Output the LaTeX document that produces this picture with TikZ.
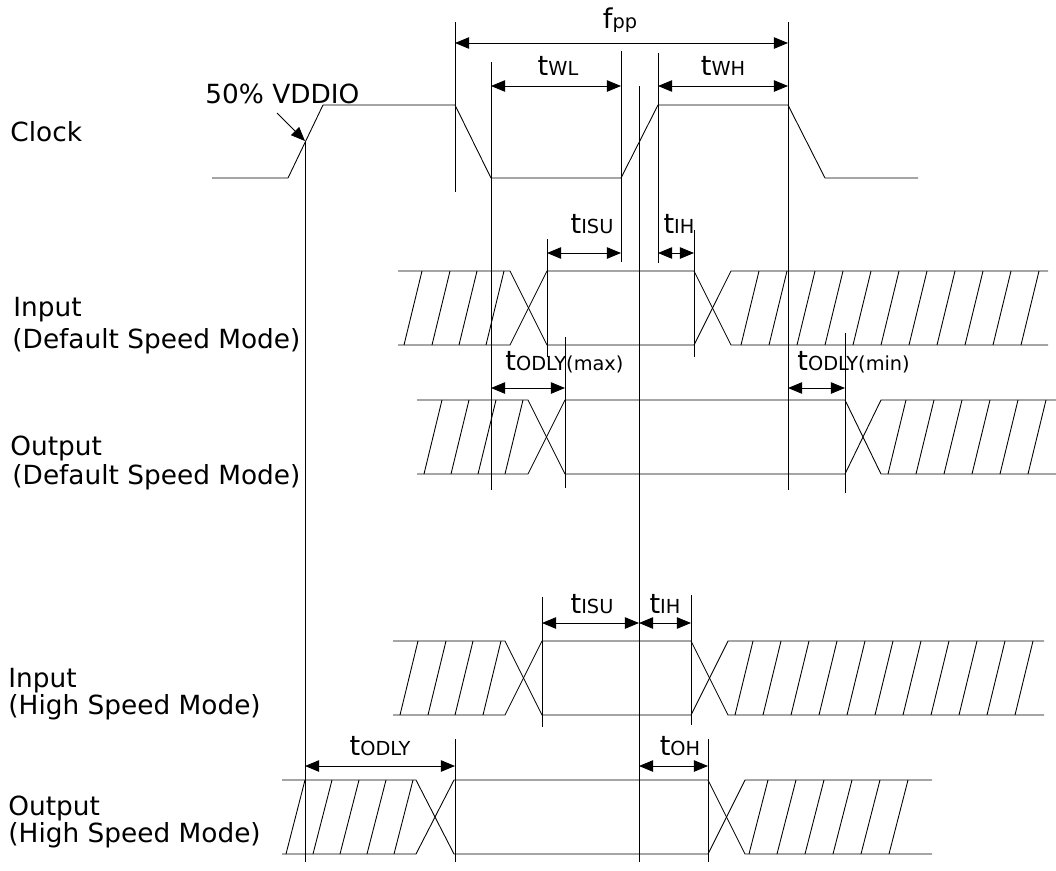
\documentclass[tikz,border=0pt]{standalone}
\usepackage{fontspec}
\setmainfont{DejaVu Sans}
\usetikzlibrary{arrows.meta}

\newcommand{\tsym}[2]{#1{\fontsize{11}{12}\selectfont #2}}

\begin{document}
\begin{tikzpicture}[x=0.02cm,y=-0.02cm,line width=0.5pt,
    >={Triangle[length=8pt,width=6.5pt]},
    dim/.style={<->},
    lbl/.style={font=\fontsize{15}{17}\selectfont,inner sep=0pt,anchor=base west},
    tlbl/.style={font=\fontsize{15.5}{17}\selectfont,inner sep=0pt,anchor=base}]
  \useasboundingbox (0,0) rectangle (1056,870);
  % signal names
  \node[lbl] (clk)   at (10,141) {Clock};
  \node[lbl] (ind)   at (13,316) {Input};
  \node[lbl] (indm)  at (12,348) {(Default Speed Mode)};
  \node[lbl] (outd)  at (10,455) {Output};
  \node[lbl] (outdm) at (12,484) {(Default Speed Mode)};
  \node[lbl] (inh)   at (8,687)  {Input};
  \node[lbl] (inhm)  at (8,714)  {(High Speed Mode)};
  \node[lbl] (outh)  at (8,815)  {Output};
  \node[lbl] (outhm) at (8,842)  {(High Speed Mode)};
  % clock
  \draw (212,178) -- (288,178) -- (323,105) -- (455,105) -- (491,178) -- (621,178)
    -- (658,105) -- (788,105) -- (825,178) -- (918,178);
  \node[lbl] (vdd) at (205,103) {50\% VDDIO};
  \draw[->] (277,113) -- (305,141);
  % guide lines
  \draw (305,141) -- (305,862);
  \draw (455,22) -- (455,192);
  \draw (491,62) -- (491,490);
  \draw (621,51) -- (621,262);
  \draw (639,86) -- (639,862);
  \draw (658,53) -- (658,263);
  \draw (788,22) -- (788,490);
  \draw (547,239) -- (547,357);
  \draw (694,230) -- (694,357);
  \draw (565,337) -- (565,488);
  \draw (845,333) -- (845,493);
  \draw (542,597) -- (542,727);
  \draw (691,595) -- (691,725);
  \draw (455,739) -- (455,862);
  \draw (708,739) -- (708,862);
  % clock timing
  \draw[dim] (455,43) -- (788,43);
  \node[tlbl] (fpp) at (620,28) {\tsym{f}{pp}};
  \draw[dim] (491,86) -- (621,86);
  \node[tlbl] (twl) at (558,75) {\tsym{t}{WL}};
  \draw[dim] (658,86) -- (788,86);
  \node[tlbl] (twh) at (723,75) {\tsym{t}{WH}};
  % input, default speed
  \draw (398,271) -- (510,271) -- (547,345) -- (694,345) -- (731,271) -- (1048,271);
  \draw (398,345) -- (510,345) -- (547,271) -- (694,271) -- (731,345) -- (1048,345);
  \foreach \x in {404,432,459,486} \draw (\x,345) -- ++(18,-74);
  \foreach \x in {741,769,...,1022} \draw (\x,345) -- ++(18,-74);
  \draw[dim] (547,253) -- (621,253);
  \node[tlbl] (tisud) at (592,233) {\tsym{t}{ISU}};
  \draw[dim] (658,253) -- (694,253);
  \node[tlbl] (tihd) at (679,233) {\tsym{t}{IH}};
  % output, default speed
  \draw (417,400) -- (528,400) -- (565,474) -- (845,474) -- (881,400) -- (1056,400);
  \draw (417,474) -- (528,474) -- (565,400) -- (845,400) -- (881,474) -- (1056,474);
  \foreach \x in {424,451,478,505} \draw (\x,474) -- ++(18,-74);
  \foreach \x in {888,916,...,1030} \draw (\x,474) -- ++(18,-74);
  \draw[dim] (491,388) -- (565,388);
  \node[tlbl,anchor=base west] (todmax) at (505,370) {\tsym{t}{ODLY(max)}};
  \draw[dim] (788,388) -- (845,388);
  \node[tlbl,anchor=base west] (todmin) at (797,370) {\tsym{t}{ODLY(min)}};
  % input, high speed
  \draw (393,641) -- (505,641) -- (542,715) -- (691,715) -- (728,641) -- (1044,641);
  \draw (393,715) -- (505,715) -- (542,641) -- (691,641) -- (728,715) -- (1044,715);
  \foreach \x in {400,428,455,483} \draw (\x,715) -- ++(18,-74);
  \foreach \x in {735,763,...,1020} \draw (\x,715) -- ++(18,-74);
  \draw[dim] (542,623) -- (639,623);
  \node[tlbl] (tisuh) at (592,613) {\tsym{t}{ISU}};
  \draw[dim] (639,623) -- (691,623);
  \node[tlbl] (tihh) at (665,613) {\tsym{t}{IH}};
  % output, high speed
  \draw (282,780) -- (416,780) -- (454,854) -- (708,854) -- (745,780) -- (932,780);
  \draw (282,854) -- (416,854) -- (454,780) -- (708,780) -- (745,854) -- (932,854);
  \foreach \x in {286,313,340,367,394} \draw (\x,854) -- ++(19,-74);
  \foreach \x in {749,777,...,892} \draw (\x,854) -- ++(19,-74);
  \draw[dim] (305,766) -- (455,766);
  \node[tlbl] (todh) at (380,755) {\tsym{t}{ODLY}};
  \draw[dim] (639,766) -- (708,766);
  \node[tlbl] (toh) at (680,755) {\tsym{t}{OH}};
\end{tikzpicture}
\end{document}
